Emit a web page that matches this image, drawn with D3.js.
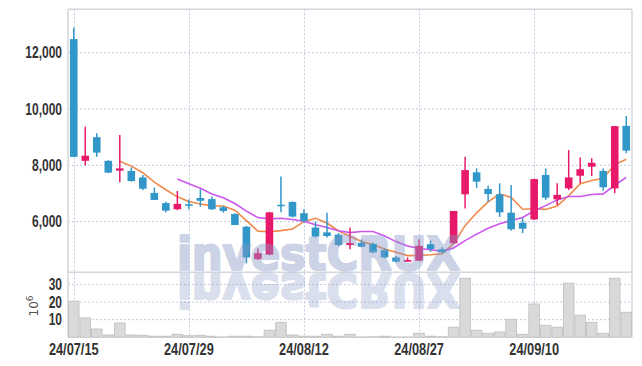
<!DOCTYPE html>
<html><head><meta charset="utf-8">
<script src="https://cdn.jsdelivr.net/npm/d3@7"></script>
<style>
html,body{margin:0;padding:0;background:#fff;}
svg{display:block;}
</style></head>
<body>
<svg id="chart" width="642" height="366"></svg>
<script>
const dates = ["24/07/15","24/07/16","24/07/17","24/07/18","24/07/19","24/07/22","24/07/23","24/07/24","24/07/25","24/07/26",
"24/07/29","24/07/30","24/07/31","24/08/01","24/08/02","24/08/05","24/08/06","24/08/07","24/08/08","24/08/09",
"24/08/12","24/08/13","24/08/14","24/08/16","24/08/19","24/08/20","24/08/21","24/08/22","24/08/23","24/08/26",
"24/08/27","24/08/28","24/08/29","24/08/30","24/09/02","24/09/03","24/09/04","24/09/05","24/09/06","24/09/09",
"24/09/10","24/09/11","24/09/12","24/09/13","24/09/19","24/09/20","24/09/23","24/09/24","24/09/25"];
const openP = [12480,8160,9000,8160,7810,7800,7570,7020,6660,6440,6620,6840,6800,6510,6270,5820,4670,4830,6600,6700,
6300,5790,5620,5540,5170,5250,5210,4990,4730,4580,4610,5200,5020,5230,6970,7750,7160,6970,6320,5960,
6080,7660,6790,7180,7630,7950,7800,7180,9400];
const closeP = [8300,8340,8450,7740,7890,7440,7170,6770,6390,6630,6600,6740,6440,6380,5880,4730,4880,6330,6580,6180,
6030,5470,5490,5170,5240,5110,4910,4730,4580,4640,5140,5030,4910,6380,7830,7420,6980,6330,5730,5750,
7510,6850,6950,7570,7860,8090,7220,9390,8520];
const highP = [12890,9370,9140,8180,9080,7920,7660,7210,6710,7090,6790,7150,6890,6560,6300,5850,5050,6350,7600,6720,
6440,6000,6320,5590,5790,5370,5250,5050,4780,4730,5370,5330,5090,6380,8300,7890,7270,7360,7300,6120,
7520,7890,7360,8540,8280,8250,7890,9400,9750];
const lowP = [8300,8000,8300,7720,7400,7420,7120,6770,6330,6410,6440,6530,6410,6320,5880,4520,4640,4810,6330,6150,
5960,5440,5440,5130,5020,5090,4880,4700,4560,4580,4600,4930,4890,5210,6470,7200,6710,6170,5680,5590,
6060,6770,6590,7120,7360,7620,7100,7010,8430];
const volume = [20.5,11.0,4.7,1.3,8.1,1.3,1.1,0.6,0.6,1.7,0.9,1.1,0.6,0.2,0.6,0.6,0.3,4.0,8.5,1.3,
0.6,0.6,1.7,0.6,1.7,0.2,0.3,0.6,0.2,0.2,2.3,0.6,0.3,5.7,33.5,4.0,2.3,3.0,10.2,1.7,
18.9,6.8,5.7,30.7,12.5,8.5,2.3,33.5,14.2];
const xTickIdx = [0,10,20,30,40];
const priceTicks = [6000,8000,10000,12000];
const volTicks = [10,20,30];
const maPeriods = [5,10];

const UP="#e8196b", DOWN="#3197c9";
const svg = d3.select("#chart");
const L=68, R=632, T=9.3, MB=272.3, VB=337.3;
const idx = d3.range(dates.length);
const x = d3.scaleBand().domain(idx).range([L,R]).paddingInner(0).paddingOuter(0);
const cx = i => x(i) + x.bandwidth()/2;
const y = d3.scaleLinear().domain([4202,13538]).range([MB,T]);
const yv = d3.scaleLinear().domain([0,36.9]).range([VB,MB]);

const gridCol="#c5c9dc";
const grid = svg.append("g");
grid.selectAll(".hg").data(priceTicks).join("line")
  .attr("x1",L).attr("x2",R).attr("y1",d=>y(d)).attr("y2",d=>y(d))
  .attr("stroke",gridCol).attr("stroke-dasharray","2,2");
grid.selectAll(".vg").data(volTicks).join("line")
  .attr("x1",L).attr("x2",R).attr("y1",d=>yv(d)).attr("y2",d=>yv(d))
  .attr("stroke",gridCol).attr("stroke-dasharray","2,2");
grid.selectAll(".xg").data(xTickIdx).join("line")
  .attr("x1",d=>Math.round(cx(d))+0.5).attr("x2",d=>Math.round(cx(d))+0.5).attr("y1",T).attr("y2",VB)
  .attr("stroke",gridCol).attr("stroke-dasharray","2,2");

const bc="#d4d6de";
svg.append("line").attr("x1",L).attr("x2",L).attr("y1",T).attr("y2",VB).attr("stroke",bc).attr("stroke-width",1.5);
svg.append("line").attr("x1",R).attr("x2",R).attr("y1",T).attr("y2",VB).attr("stroke",bc).attr("stroke-width",1.5);
svg.append("line").attr("x1",L).attr("x2",R).attr("y1",T).attr("y2",T).attr("stroke",bc).attr("stroke-width",1.5);
svg.append("line").attr("x1",L).attr("x2",R).attr("y1",MB).attr("y2",MB).attr("stroke",bc).attr("stroke-width",1.5);

svg.append("g").selectAll("rect").data(idx).join("rect")
  .attr("x",i=>x(i)+0.5).attr("width",x.bandwidth()-1)
  .attr("y",i=>yv(volume[i])).attr("height",i=>VB-yv(volume[i]))
  .attr("fill","#d9d9d9").attr("stroke","#c4c4c4").attr("stroke-width",1);

const maCol = {5:"#ef8a4c",10:"#cc55ee"};
maPeriods.forEach(p=>{
  const pts = idx.filter(i=>i>=p-1).map(i=>[cx(i), y(d3.mean(closeP.slice(i-p+1,i+1)))]);
  svg.append("path").attr("d",d3.line()(pts)).attr("fill","none")
    .attr("stroke",maCol[p]).attr("stroke-width",1.6);
});

const bw = 7.6;
const cg = svg.append("g");
idx.forEach(i=>{
  const col = closeP[i]>=openP[i]?UP:DOWN;
  cg.append("line").attr("x1",cx(i)).attr("x2",cx(i)).attr("y1",y(highP[i])).attr("y2",y(lowP[i]))
    .attr("stroke",col).attr("stroke-width",1.5);
  const top = y(Math.max(openP[i],closeP[i])), bot = y(Math.min(openP[i],closeP[i]));
  const h = Math.max(bot-top,1.5);
  cg.append("rect").attr("x",cx(i)-bw/2).attr("width",bw).attr("y",top).attr("height",h).attr("fill",col);
});

const font = "'Liberation Sans',Arial,sans-serif";
function label(g, data, px, py, anchor, sx, txt){
  g.selectAll("text").data(data).join("text")
    .attr("transform",d=>`translate(${px(d)},${py(d)}) scale(${sx},1)`)
    .attr("dy","0.36em").attr("text-anchor",anchor)
    .attr("font-family",font).attr("font-weight","bold").attr("font-size",16)
    .attr("fill","#333").text(txt);
}
label(svg.append("g"), priceTicks, ()=>62, d=>y(d), "end", 0.75, d=>d3.format(",")(d));
label(svg.append("g"), volTicks, ()=>62, d=>yv(d), "end", 0.75, d=>d);
label(svg.append("g"), xTickIdx, d=>cx(d), ()=>349, "middle", 0.8, d=>dates[d]);

const ul = svg.append("text").attr("transform","translate(38,306) rotate(-90)")
  .attr("text-anchor","middle").attr("font-family","'DejaVu Sans',sans-serif").attr("font-size",12).attr("fill","#555");
ul.append("tspan").text("10");
ul.append("tspan").attr("dy",-5).attr("font-size",9).text("6");

const wm = svg.append("g").attr("pointer-events","none");
function wmText(g, op){
  return g.append("text").attr("x",177).attr("y",270).attr("textLength",283).attr("lengthAdjust","spacingAndGlyphs")
    .attr("font-family","'DejaVu Sans',sans-serif").attr("font-weight","bold").attr("font-size",46)
    .attr("fill","#8797c6").attr("stroke","#8797c6").attr("stroke-width",2.2).attr("stroke-linejoin","round")
    .attr("opacity",op).text("investCRUX");
}
wmText(wm, 0.42);
wmText(wm.append("g").attr("transform","translate(0,544) scale(1,-1)"), 0.3);
</script>
</body></html>
